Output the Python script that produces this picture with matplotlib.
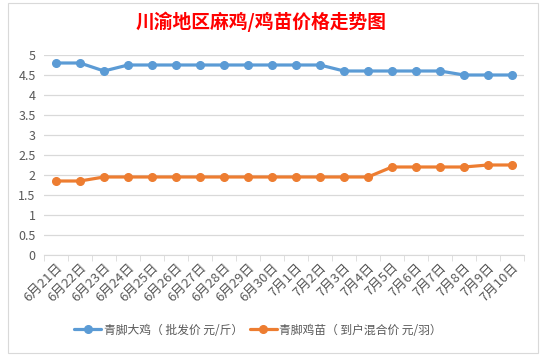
import matplotlib
matplotlib.use("Agg")
import matplotlib.pyplot as plt
from matplotlib.patches import Rectangle
import numpy as np

plt.rcParams['font.family'] = ['Noto Sans CJK SC', 'DejaVu Sans']

# 数据
dates = ["6月21日", "6月22日", "6月23日", "6月24日", "6月25日", "6月26日", "6月27日",
         "6月28日", "6月29日", "6月30日", "7月1日", "7月2日", "7月3日", "7月4日",
         "7月5日", "7月6日", "7月7日", "7月8日", "7月9日", "7月10日"]
big_chicken = [4.8, 4.8, 4.6, 4.75, 4.75, 4.75, 4.75, 4.75, 4.75, 4.75,
               4.75, 4.75, 4.6, 4.6, 4.6, 4.6, 4.6, 4.5, 4.5, 4.5]
chick = [1.85, 1.85, 1.95, 1.95, 1.95, 1.95, 1.95, 1.95, 1.95, 1.95,
         1.95, 1.95, 1.95, 1.95, 2.2, 2.2, 2.2, 2.2, 2.25, 2.25]
yticks = [0, 0.5, 1, 1.5, 2, 2.5, 3, 3.5, 4, 4.5, 5]

W, H = 541, 356
fig = plt.figure(figsize=(W / 100, H / 100), dpi=100)
fig.patch.set_facecolor("white")

# 图表边框
fig.patches.append(Rectangle((8 / W, 3 / H), 530 / W, 350 / H, transform=fig.transFigure,
                             fill=False, ec="#D9D9D9", lw=0.8))

ax = fig.add_axes([44 / W, 1 - 255 / H, 480 / W, 200 / H])
x = np.arange(len(dates))

ax.plot(x, big_chicken, color="#5B9BD5", lw=2.3, marker="o", ms=5.5,
        label="青脚大鸡（ 批发价 元/斤）", solid_capstyle="round")
ax.plot(x, chick, color="#ED7D31", lw=2.3, marker="o", ms=5.5,
        label="青脚鸡苗（ 到户混合价 元/羽）", solid_capstyle="round")

ax.set_xlim(-0.5, len(dates) - 0.5)
ax.set_ylim(0, 5)
ax.set_yticks(yticks)
ax.set_yticklabels([f"{v:g}" for v in yticks])
ax.grid(axis="y", color="#D9D9D9", lw=0.9)
ax.set_axisbelow(True)
for s in ["top", "right", "left"]:
    ax.spines[s].set_visible(False)
ax.spines["bottom"].set_color("#D9D9D9")
ax.tick_params(axis="y", length=0, labelsize=9, labelcolor="#595959", pad=6)

ax.set_xticks(x)
ax.set_xticklabels(dates, rotation=45, ha="right", va="top", rotation_mode="anchor",
                   fontsize=9.5, color="#595959")
ax.tick_params(axis="x", which="major", length=0, pad=4)
ax.set_xticks(np.arange(-0.5, len(dates)), minor=True)
ax.tick_params(axis="x", which="minor", length=4, color="#D9D9D9")

fig.text(261 / W, 1 - 22 / H, "川渝地区麻鸡/鸡苗价格走势图", color="red",
         fontsize=13.5, fontweight="bold", ha="center", va="center")

handles, labels = ax.get_legend_handles_labels()
fig.legend(handles, labels, loc="center", bbox_to_anchor=(258 / W, 1 - 330 / H),
           ncol=2, frameon=False, fontsize=8.5, labelcolor="#595959", handlelength=2.3,
           columnspacing=0.6, handletextpad=0.2)

fig.savefig("out.png", dpi=100)
